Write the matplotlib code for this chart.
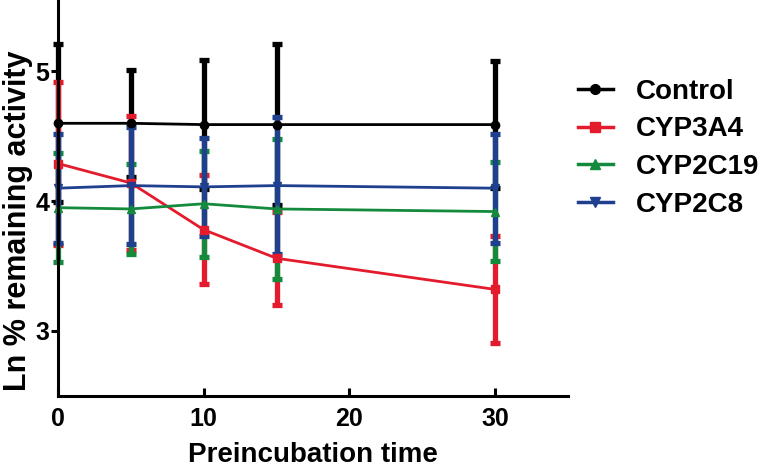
import numpy as np
import matplotlib
matplotlib.use("Agg")
import matplotlib.pyplot as plt
from matplotlib.lines import Line2D

# Data
time_min = [0, 5, 10, 15, 30]
series = ["Control", "CYP3A4", "CYP2C19", "CYP2C8"]
control = [4.60, 4.60, 4.59, 4.59, 4.59]
control_err = [0.61, 0.41, 0.50, 0.62, 0.49]
cyp3a4 = [4.29, 4.14, 3.78, 3.56, 3.32]
cyp3a4_err = [0.63, 0.52, 0.42, 0.36, 0.41]
cyp2c19 = [3.95, 3.94, 3.98, 3.94, 3.92]
cyp2c19_err = [0.42, 0.35, 0.41, 0.54, 0.38]
cyp2c8 = [4.10, 4.12, 4.11, 4.12, 4.10]
cyp2c8_err = [0.42, 0.45, 0.38, 0.53, 0.42]

colors = ["#000000", "#e31b2c", "#138a3c", "#1f3f8f"]
markers = ["o", "s", "^", "v"]

plt.rcParams["font.family"] = ["Liberation Sans", "DejaVu Sans"]
plt.rcParams["font.weight"] = "bold"

fig = plt.figure(figsize=(7.6, 4.69), dpi=100)
ax = fig.add_axes([0.0763, 0.156, 0.671, 0.844])

values = [control, cyp3a4, cyp2c19, cyp2c8]
errors = [control_err, cyp3a4_err, cyp2c19_err, cyp2c8_err]
handles = []
for name, y, e, c, m in zip(series, values, errors, colors, markers):
    ax.errorbar(time_min, y, yerr=e, color=c, marker=m, markersize=6,
                linewidth=2.0, elinewidth=3.8, capsize=3.5, capthick=3.8,
                clip_on=False)
    handles.append(Line2D([], [], color=c, marker=m, markersize=7,
                          linewidth=2.5, label=name))

ax.set_xlim(0, 35)
ax.set_ylim(2.5, 5.55)
ax.set_xticks([0, 10, 20, 30])
ax.set_yticks([3, 4, 5])
for side in ["top", "right"]:
    ax.spines[side].set_visible(False)
for side in ["left", "bottom"]:
    ax.spines[side].set_linewidth(2.2)
ax.tick_params(axis="x", direction="in", width=2.2, length=6, labelsize=18, pad=8)
ax.tick_params(axis="y", direction="out", width=2.2, length=5, labelsize=18, pad=1)
for lab in ax.get_xticklabels() + ax.get_yticklabels():
    lab.set_fontweight("bold")

ax.set_xlabel("Preincubation time", fontsize=20, fontweight="bold", labelpad=8)
ax.set_ylabel("Ln % remaining activity", fontsize=22, fontweight="bold")
ax.yaxis.set_label_coords(-0.049, 0.442)

fig.legend(handles=handles, loc="upper left", bbox_to_anchor=(0.7605, 0.832),
           frameon=False, handlelength=1.25, handletextpad=0.84,
           labelspacing=0.42, borderpad=0, borderaxespad=0,
           prop={"weight": "bold", "size": 20})

fig.savefig("out.png", dpi=100)
